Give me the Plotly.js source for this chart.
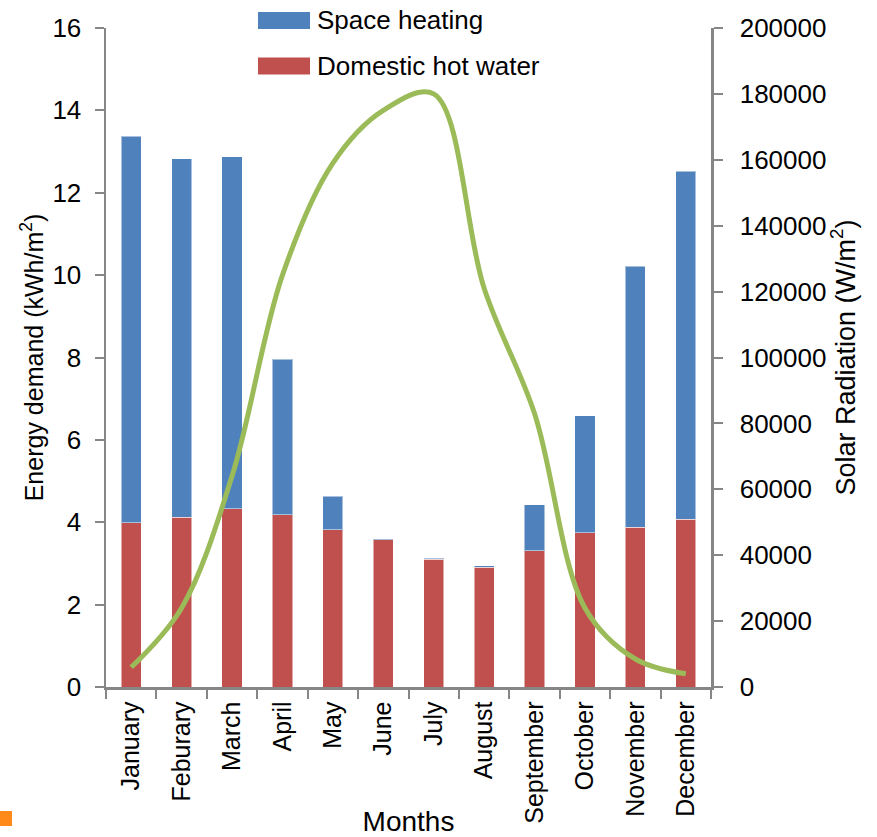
<!DOCTYPE html>
<html>
<head>
<meta charset="utf-8">
<script src="https://cdn.plot.ly/plotly-3.0.1.min.js"></script>
<style>
  html, body { margin: 0; padding: 0; background: #ffffff; }
  #chart { width: 877px; height: 837px; }
</style>
</head>
<body>
<div id="chart"></div>
<script>
// Monthly energy demand (stacked bars) and solar radiation (smoothed line)
const months = ["January", "Feburary", "March", "April", "May", "June",
                "July", "August", "September", "October", "November", "December"];

// kWh/m²
const domesticHotWater = [3.99, 4.12, 4.33, 4.18, 3.82, 3.57, 3.10, 2.91, 3.31, 3.75, 3.88, 4.07];
const spaceHeating     = [9.38, 8.71, 8.54, 3.78, 0.81, 0.03, 0.03, 0.03, 1.12, 2.83, 6.34, 8.45];

// W/m²
const solarRadiation = [6000, 24000, 64000, 125000, 159000, 175000, 180000, 121000, 83000, 24000, 8500, 4000];

const leftTicks  = [0, 2, 4, 6, 8, 10, 12, 14, 16];
const rightTicks = [0, 20000, 40000, 60000, 80000, 100000, 120000, 140000, 160000, 180000, 200000];

const seriesNames = ["Space heating", "Domestic hot water"];
const seriesColors = ["#4F81BD", "#C0504D"];

const sans = '"Liberation Sans", Arial, sans-serif';
const axisGrey = "#868686";

const traces = [
  {
    type: "bar", name: seriesNames[1], x: months, y: domesticHotWater,
    marker: { color: seriesColors[1], line: { color: "rgba(255,255,255,0.5)", width: 1 } },
    yaxis: "y", showlegend: false, hoverinfo: "x+y"
  },
  {
    type: "bar", name: seriesNames[0], x: months, y: spaceHeating,
    marker: { color: seriesColors[0], line: { color: "rgba(255,255,255,0.5)", width: 1 } },
    yaxis: "y", showlegend: false, hoverinfo: "x+y"
  },
  {
    type: "scatter", mode: "lines", name: "Solar radiation", x: months, y: solarRadiation,
    line: { color: "#9BBB59", width: 5, shape: "spline", smoothing: 1 },
    yaxis: "y2", showlegend: false
  }
];

// Legend drawn as swatches plus labels above the plot
const legendShapes = [];
const legendNotes = [];
const swatchX0 = 0.2512, swatchX1 = 0.3372;
const rowsY = [1.0114, 0.9423];
const rowHalf = 0.0129;
seriesNames.forEach((name, i) => {
  legendShapes.push({
    type: "rect", xref: "paper", yref: "paper",
    x0: swatchX0, x1: swatchX1, y0: rowsY[i] - rowHalf, y1: rowsY[i] + rowHalf,
    fillcolor: seriesColors[i], line: { width: 0 }
  });
  legendNotes.push({
    xref: "paper", yref: "paper", x: 0.3455, y: rowsY[i],
    xanchor: "left", yanchor: "middle", showarrow: false, text: name,
    font: { family: sans, size: 26, color: "#000" }
  });
});

// small orange marker in the lower-left corner
legendShapes.push({
  type: "rect", xref: "paper", yref: "paper",
  x0: -0.1752, x1: -0.1554, y0: -0.2109, y1: -0.1882,
  fillcolor: "#FF8A1A", line: { width: 0 }
});

const layout = {
  width: 877, height: 837,
  margin: { l: 106, r: 166, t: 28, b: 150, pad: 0 },
  paper_bgcolor: "#ffffff", plot_bgcolor: "#ffffff",
  barmode: "stack", bargap: 0.6,
  showlegend: false,
  xaxis: {
    type: "category", tickangle: -90, tickson: "boundaries",
    ticks: "outside", ticklen: 9, tickwidth: 2, tickcolor: axisGrey,
    showline: true, linecolor: axisGrey, linewidth: 2.5,
    showgrid: false, zeroline: false,
    tickfont: { family: sans, size: 25, color: "#000" },
    ticklabelstandoff: 2,
    title: { text: "Months", font: { family: sans, size: 28, color: "#000" }, standoff: 2 },
    automargin: false
  },
  yaxis: {
    range: [0, 16], tickvals: leftTicks,
    ticks: "outside", ticklen: 9, tickwidth: 2, tickcolor: axisGrey,
    showline: true, linecolor: axisGrey, linewidth: 2.5,
    showgrid: false, zeroline: false,
    tickfont: { family: sans, size: 26, color: "#000" },
    ticklabelstandoff: 8,
    title: { text: "Energy demand (kWh/m<sup>2</sup>)", font: { family: sans, size: 25, color: "#000" }, standoff: 2 },
    automargin: false
  },
  yaxis2: {
    overlaying: "y", side: "right", range: [0, 200000], tickvals: rightTicks,
    tickformat: "d",
    ticks: "outside", ticklen: 9, tickwidth: 2, tickcolor: axisGrey,
    showline: true, linecolor: axisGrey, linewidth: 2.5,
    showgrid: false, zeroline: false,
    tickfont: { family: sans, size: 26, color: "#000" },
    ticklabelstandoff: 12,
    title: { text: "Solar Radiation (W/m<sup>2</sup>)", font: { family: sans, size: 27, color: "#000" }, standoff: 2 },
    automargin: false
  },
  shapes: legendShapes,
  annotations: legendNotes
};

Plotly.newPlot("chart", traces, layout, { displayModeBar: false, staticPlot: true });
</script>
</body>
</html>
